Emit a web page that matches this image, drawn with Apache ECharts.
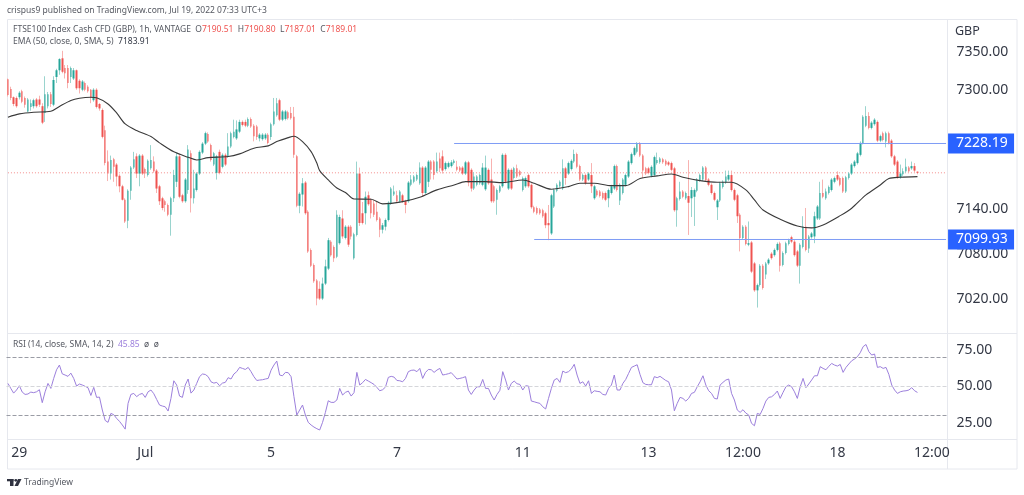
<!DOCTYPE html>
<html>
<head>
<meta charset="utf-8">
<style>html,body{margin:0;padding:0;background:#fff}#c{width:1024px;height:495px}</style>
<script src="https://cdn.jsdelivr.net/npm/echarts@6/dist/echarts.min.js"></script>
</head>
<body>
<div id="c"></div>
<script>
const slotCount = 329;
const tickBars = [4, 48, 92, 136, 180, 224, 257, 290, 323];
const tickLabels = ['29', 'Jul', '5', '7', '11', '13', '12:00', '18', '12:00'];
const priceTicks = [7020, 7080, 7140, 7300, 7350];
const rsiTicks = [25, 50, 75];
const lastClose = 7189.01;
const resistance = 7228.19;
const support = 7099.93;
const resistanceStartBar = 156;
const supportStartBar = 184;

const opens = [
7314,7301,7290,7289,7290,7298,7289,7271,7277,7278,
7287,7287,7278,7269,7278,7294,7280,7317,7326,7342,
7329,7329,7317,7315,7326,7312,7300,7309,7304,7300,
7286,7300,7281,7273,7246,7204,7188,7207,7200,7185,
7171,7153,7125,7165,7196,7211,7188,7212,7194,7186,
7195,7204,7192,7171,7155,7151,7146,7133,7155,7177,
7211,7159,7151,7166,7215,7155,7166,7188,7216,7228,
7241,7226,7200,7189,7217,7197,7213,7211,7224,7237,
7235,7244,7257,7257,7252,7261,7252,7251,7235,7234,
7235,7240,7237,7254,7266,7286,7260,7261,7270,7269,
7264,7211,7145,7160,7176,7137,7086,7066,7045,7034,
7021,7041,7061,7097,7090,7077,7095,7128,7102,7117,
7117,7075,7106,7188,7135,7135,7159,7153,7148,7137,
7128,7113,7117,7126,7148,7160,7159,7151,7159,7151,
7151,7173,7177,7180,7175,7196,7162,7177,7204,7204,
7191,7208,7211,7194,7197,7198,7202,7197,7196,7196,
7188,7203,7193,7168,7173,7175,7173,7167,7193,7180,
7171,7153,7164,7171,7213,7168,7193,7182,7195,7191,
7166,7171,7186,7173,7143,7142,7140,7139,7135,7122,
7108,7144,7165,7171,7168,7195,7188,7194,7204,7214,
7198,7180,7186,7180,7186,7155,7165,7164,7162,7162,
7155,7162,7168,7198,7152,7162,7173,7184,7202,7213,
7217,7228,7212,7195,7195,7185,7186,7202,7203,7207,
7205,7203,7202,7195,7139,7154,7164,7155,7158,7155,
7157,7165,7179,7180,7196,7180,7173,7162,7143,7152,
7170,7176,7180,7186,7166,7159,7133,7102,7117,7093,
7096,7068,7032,7039,7065,7053,7068,7081,7079,7086,
7095,7066,7082,7094,7103,7097,7084,7065,7090,7117,
7088,7103,7104,7128,7128,7162,7155,7162,7166,7177,
7186,7182,7182,7164,7182,7188,7198,7202,7213,7229,
7252,7265,7249,7254,7257,7232,7242,7231,7242,7232,
7211,7204,7183,7187,7191,7196,7195,7198,7190.51];

const closes = [
7293,7289,7281,7278,7296,7284,7280,7287,7282,7286,
7278,7280,7256,7294,7294,7281,7313,7326,7341,7324,
7322,7309,7329,7326,7302,7302,7311,7300,7298,7289,
7300,7277,7275,7237,7202,7188,7206,7197,7184,7171,
7153,7124,7165,7196,7207,7188,7212,7188,7188,7205,
7206,7191,7168,7151,7142,7146,7133,7155,7186,7211,
7157,7151,7180,7220,7155,7168,7188,7217,7228,7242,
7231,7206,7215,7211,7189,7213,7200,7224,7242,7244,
7247,7257,7253,7252,7261,7251,7238,7237,7240,7240,
7240,7229,7254,7271,7282,7260,7271,7271,7262,7262,
7213,7145,7161,7175,7135,7084,7065,7044,7021,7021,
7041,7064,7099,7079,7075,7133,7130,7104,7117,7093,
7104,7107,7188,7122,7122,7157,7147,7135,7133,7126,
7113,7119,7126,7149,7168,7164,7151,7164,7151,7146,
7176,7180,7184,7186,7196,7162,7196,7204,7193,7186,
7204,7195,7192,7202,7202,7203,7205,7193,7192,7188,
7203,7176,7168,7184,7184,7186,7196,7196,7175,7151,
7151,7166,7171,7213,7177,7193,7168,7195,7184,7186,
7182,7182,7171,7143,7137,7135,7135,7131,7119,7119,
7159,7166,7173,7177,7195,7182,7202,7205,7214,7197,
7180,7186,7175,7188,7171,7171,7159,7158,7155,7153,
7166,7171,7198,7166,7173,7180,7186,7204,7214,7222,
7228,7212,7192,7188,7189,7197,7210,7206,7208,7203,
7200,7200,7193,7139,7155,7164,7157,7162,7149,7166,
7166,7180,7186,7196,7179,7173,7162,7153,7152,7175,
7177,7184,7186,7166,7153,7131,7102,7117,7094,7095,
7057,7032,7039,7065,7035,7068,7073,7075,7086,7094,
7065,7082,7095,7099,7097,7079,7065,7093,7117,7086,
7104,7108,7131,7144,7162,7157,7164,7170,7180,7182,
7180,7173,7164,7183,7188,7200,7204,7215,7229,7264,
7265,7249,7256,7260,7232,7238,7233,7242,7229,7211,
7200,7183,7188,7191,7197,7191,7198,7192,7189.01];

const lows = [
7291,7286,7278,7276,7287,7282,7276,7270,7272,7275,
7276,7277,7254,7257,7275,7277,7278,7309,7320,7322,
7315,7302,7309,7313,7300,7295,7298,7298,7296,7282,
7284,7275,7272,7235,7199,7178,7180,7177,7171,7163,
7152,7122,7115,7153,7194,7182,7171,7186,7182,7184,
7193,7189,7162,7146,7139,7137,7131,7105,7150,7170,
7155,7149,7149,7161,7136,7148,7164,7186,7214,7226,
7229,7204,7198,7180,7187,7195,7198,7209,7222,7235,
7233,7242,7251,7250,7250,7249,7231,7233,7231,7232,
7233,7227,7233,7252,7264,7258,7258,7259,7260,7260,
7209,7143,7135,7144,7133,7082,7063,7042,7012,7019,
7019,7039,7059,7077,7070,7075,7093,7101,7100,7090,
7100,7073,7104,7118,7120,7120,7145,7128,7130,7124,
7103,7108,7112,7124,7146,7158,7149,7149,7149,7135,
7149,7171,7175,7178,7173,7157,7160,7170,7180,7180,
7189,7190,7188,7192,7195,7196,7200,7191,7190,7186,
7186,7171,7164,7166,7171,7173,7171,7165,7173,7149,
7149,7133,7162,7169,7175,7166,7166,7180,7182,7184,
7164,7169,7169,7141,7135,7133,7133,7129,7115,7099,
7106,7142,7163,7169,7166,7173,7186,7192,7202,7195,
7178,7178,7173,7178,7162,7153,7157,7156,7153,7151,
7143,7160,7166,7164,7146,7160,7171,7182,7200,7211,
7215,7210,7182,7186,7187,7183,7184,7200,7201,7201,
7198,7198,7191,7137,7117,7152,7155,7153,7106,7130,
7118,7163,7177,7178,7177,7171,7160,7151,7126,7150,
7168,7174,7178,7164,7151,7122,7084,7100,7092,7091,
7055,7030,7009,7037,7033,7047,7066,7073,7077,7084,
7057,7064,7080,7092,7095,7077,7063,7041,7088,7084,
7082,7101,7095,7126,7126,7155,7153,7160,7164,7175,
7178,7171,7162,7162,7180,7186,7196,7200,7211,7227,
7250,7247,7247,7252,7230,7230,7231,7223,7227,7209,
7198,7181,7181,7185,7189,7189,7193,7190,7187.01];

const highs = [
7315,7304,7291,7291,7298,7300,7291,7289,7287,7288,
7289,7292,7282,7318,7297,7297,7318,7328,7342,7352,
7333,7333,7331,7329,7327,7314,7313,7311,7306,7301,
7302,7302,7282,7275,7252,7219,7212,7209,7202,7187,
7173,7155,7167,7198,7217,7215,7214,7214,7196,7207,
7226,7211,7194,7173,7157,7153,7148,7157,7193,7216,
7214,7161,7182,7226,7219,7193,7190,7219,7230,7244,
7243,7228,7217,7213,7220,7215,7215,7242,7244,7260,
7259,7260,7259,7260,7263,7263,7254,7253,7242,7242,
7242,7242,7256,7289,7289,7288,7273,7273,7272,7277,
7277,7213,7163,7182,7178,7139,7088,7068,7047,7044,
7049,7073,7102,7099,7092,7139,7133,7139,7119,7119,
7119,7109,7204,7196,7150,7164,7164,7155,7153,7150,
7130,7122,7128,7151,7170,7172,7165,7166,7161,7153,
7178,7186,7186,7188,7203,7198,7198,7206,7206,7206,
7216,7216,7219,7204,7204,7206,7207,7205,7198,7198,
7205,7205,7195,7190,7186,7188,7202,7212,7195,7208,
7173,7168,7173,7215,7215,7195,7195,7197,7200,7193,
7184,7184,7188,7175,7145,7144,7142,7141,7137,7146,
7161,7168,7175,7179,7207,7197,7204,7207,7220,7216,
7200,7188,7188,7190,7202,7173,7167,7166,7164,7164,
7168,7173,7200,7200,7175,7182,7188,7206,7216,7224,
7230,7230,7214,7197,7197,7199,7212,7216,7210,7209,
7207,7205,7204,7197,7157,7177,7166,7164,7206,7170,
7168,7182,7188,7198,7198,7182,7175,7164,7154,7177,
7179,7192,7192,7192,7168,7161,7135,7119,7119,7124,
7098,7070,7041,7067,7067,7070,7075,7083,7088,7096,
7097,7084,7097,7101,7105,7099,7086,7095,7131,7142,
7106,7110,7137,7146,7177,7180,7168,7172,7182,7184,
7191,7184,7184,7185,7190,7202,7206,7217,7231,7266,
7278,7270,7258,7262,7259,7240,7244,7244,7244,7234,
7213,7206,7200,7195,7208,7198,7204,7202,7190.8];

const emaBars = [0,4,9,15,18,22,25,29,31,35,38,41,45,50,53,58,63,66,70,77,81,86,91,94,98,100,103,106,108,109,112,115,118,121,127,131,138,144,150,156,160,167,173,180,184,190,196,200,205,211,216,221,227,232,236,242,248,253,258,261,264,270,276,281,285,291,295,300,305,308,312,318];
const emaValues = [7263.3,7267.7,7270,7271.3,7277.7,7285.7,7288.7,7290,7289.3,7281,7269,7254.3,7245.4,7237.4,7229,7217,7209.8,7206.2,7209.3,7210.7,7214.3,7221.9,7225,7230.7,7236,7237.9,7230.7,7217.3,7202,7192,7179.5,7168.8,7162.8,7154,7153.7,7147.5,7150.5,7156.4,7166.2,7172.8,7177.3,7177.3,7175.9,7179.5,7175.1,7167.1,7170.6,7175.1,7175.1,7171.9,7171.9,7181.3,7184.9,7187.5,7183.1,7178.6,7176.4,7176.4,7166.2,7152.8,7139.4,7127,7118,7115.4,7119.4,7131.8,7141.7,7159.5,7172.8,7181.5,7183.1,7183.91];

const rsiValues = [
52.0,48.6,45.4,47.5,50.4,46.1,44.5,44.8,46.1,45.7,
46.3,47.7,38.9,46.3,52.0,48.6,55.4,61.3,64.5,58.5,
57.7,56.8,59.0,55.4,50.2,51.6,50.9,50.0,49.1,43.8,
49.3,42.5,42.7,33.9,26.8,25.5,31.6,30.7,28.2,26.2,
23.7,20.9,38.4,44.5,45.2,43.0,44.5,45.2,42.5,46.3,
47.5,45.0,41.1,37.3,36.6,36.1,33.2,41.8,53.8,50.9,
43.4,42.5,50.9,55.0,45.4,47.5,52.0,56.6,58.4,58.1,
56.6,53.1,52.2,52.7,50.4,52.2,52.7,55.9,55.0,58.4,
60.0,62.9,62.2,61.5,62.9,60.0,56.6,54.0,54.3,54.5,
55.0,55.4,61.0,64.5,67.2,57.7,57.2,59.5,59.3,56.6,
43.0,30.5,33.9,37.3,30.5,25.5,23.7,22.3,21.2,20.3,
25.5,32.3,40.2,39.1,39.1,40.7,48.6,44.1,45.9,46.8,
43.4,45.7,59.5,50.9,52.5,54.7,53.6,52.5,51.3,49.3,
47.0,47.7,49.5,56.1,56.8,56.3,54.0,53.8,53.1,55.4,
60.0,60.9,61.1,60.0,62.2,55.4,59.5,61.5,61.3,59.5,
61.1,62.2,57.7,58.1,58.6,59.3,57.2,55.0,55.4,55.9,
56.6,47.5,44.5,47.5,49.7,49.7,54.7,48.6,48.6,44.1,
40.7,44.5,47.3,60.0,54.3,47.5,52.0,53.6,51.8,51.3,
47.5,50.4,50.2,40.0,39.5,38.9,38.4,36.1,34.6,41.8,
48.6,54.3,55.4,52.7,60.4,59.3,60.0,61.8,65.0,57.7,
52.0,53.1,50.2,53.8,45.2,47.0,46.6,46.3,44.5,44.1,
48.6,50.9,57.7,47.5,47.5,52.0,54.7,58.8,62.9,63.8,
64.7,58.1,52.5,51.3,51.1,51.1,56.6,55.9,56.8,55.4,
54.0,53.1,47.5,33.4,38.4,42.5,41.8,40.0,41.8,45.2,
45.9,49.7,53.1,57.2,50.9,47.0,45.2,41.8,41.4,50.9,
52.7,54.3,55.0,45.2,40.7,33.9,32.3,34.1,31.8,30.5,
24.8,23.2,31.6,30.9,35.0,40.0,42.5,42.9,44.5,46.8,
41.8,45.9,49.7,50.9,49.7,46.3,41.8,49.7,55.4,49.1,
51.6,54.3,57.2,57.2,63.4,62.2,61.3,63.6,65.6,64.5,
63.8,64.9,59.5,62.9,65.2,67.4,68.6,70.2,72.9,77.0,
78.5,73.6,71.3,72.0,62.9,63.4,62.2,62.9,58.1,50.9,
47.5,45.2,46.3,46.8,47.0,47.5,49.1,47.0,45.85];

const FONT = '"Noto Sans", sans-serif';
const SMALL = '8.5px ' + FONT;
const UP = '#26a69a', DOWN = '#ef5350';
const UP_WICK = '#9ad4ce', DOWN_WICK = '#f8b2b0';
const FRAME = '#e6e8ee';
const categories = Array.from({length: slotCount}, (_, i) => {
  const k = tickBars.indexOf(i);
  return k >= 0 ? tickLabels[k] : '';
});

const wickData = opens.map((o, i) => [o, closes[i], lows[i], highs[i]]);
const bodyData = opens.map((o, i) => [o, closes[i], Math.min(o, closes[i]), Math.max(o, closes[i])]);
const LEFT = 6.5, RIGHT = 1024 - 947.5;

function levelSeries(name, value, startBar) {
  return {
    name, type: 'line', xAxisIndex: 0, yAxisIndex: 0, showSymbol: false, silent: true, z: 4,
    data: [[startBar, value], [slotCount - 1, value]],
    lineStyle: {color: '#7f9cf5', width: 1},
    endLabel: {show: true, distance: 2, formatter: value.toFixed(2),
      backgroundColor: '#2962ff', color: '#fff', fontFamily: FONT, fontSize: 14,
      width: 50, align: 'left', padding: [3, 8, 3, 8]}
  };
}

const chart = echarts.init(document.getElementById('c'), null, {renderer: 'canvas'});
chart.setOption({
  animation: false,
  backgroundColor: '#fff',
  grid: [
    {left: LEFT, right: RIGHT, top: 19, height: 314},
    {left: LEFT, right: RIGHT, top: 333, height: 107}
  ],
  xAxis: [
    {type: 'category', gridIndex: 0, data: categories, boundaryGap: true,
     axisLine: {show: false}, axisTick: {show: false}, axisLabel: {show: false}, splitLine: {show: false}},
    {type: 'category', gridIndex: 1, data: categories, boundaryGap: true,
     axisLine: {show: false}, axisTick: {show: false}, splitLine: {show: false},
     axisLabel: {show: true, interval: 0, color: '#333845', fontFamily: FONT, fontSize: 14, margin: 6, hideOverlap: false}}
  ],
  yAxis: [
    {type: 'value', gridIndex: 0, position: 'right', min: 6975, max: 7394.5, scale: true,
     axisLine: {show: false}, axisTick: {show: false}, splitLine: {show: false},
     axisLabel: {customValues: priceTicks, formatter: v => v.toFixed(2), color: '#333845',
       fontFamily: FONT, fontSize: 14, margin: 9}},
    {type: 'value', gridIndex: 1, position: 'right', min: 13.5, max: 86.3,
     axisLine: {show: false}, axisTick: {show: false}, splitLine: {show: false},
     axisLabel: {customValues: rsiTicks, formatter: v => v.toFixed(2), color: '#333845',
       fontFamily: FONT, fontSize: 14, margin: 9}}
  ],
  series: [
    {name: 'Last', type: 'line', xAxisIndex: 0, yAxisIndex: 0, showSymbol: false, silent: true, z: 1,
     data: [[0, lastClose], [slotCount - 1, lastClose]],
     lineStyle: {color: '#f48f8d', type: [1, 2], width: 1}},
    {name: 'Wicks', type: 'candlestick', xAxisIndex: 0, yAxisIndex: 0, data: wickData, barWidth: 1, z: 2,
     itemStyle: {color: UP_WICK, color0: DOWN_WICK, borderColor: UP_WICK, borderColor0: DOWN_WICK, borderWidth: 1}},
    {name: 'FTSE100', type: 'candlestick', xAxisIndex: 0, yAxisIndex: 0, data: bodyData, barWidth: 2, z: 3,
     itemStyle: {color: UP, color0: DOWN, borderColor: UP, borderColor0: DOWN, borderWidth: 0}},
    levelSeries('Resistance', resistance, resistanceStartBar),
    levelSeries('Support', support, supportStartBar),
    {name: 'EMA', type: 'line', xAxisIndex: 0, yAxisIndex: 0, showSymbol: false, smooth: 0.3, z: 5,
     data: emaBars.map((b, i) => [b, emaValues[i]]),
     lineStyle: {color: '#3a3a3a', width: 1.1}},
    {name: 'RSI', type: 'line', xAxisIndex: 1, yAxisIndex: 1, showSymbol: false, data: rsiValues,
     lineStyle: {color: '#9c7fdc', width: 1},
     markLine: {silent: true, symbol: 'none', animation: false, label: {show: false},
       data: [
         {yAxis: 70, lineStyle: {color: '#9a9ca5', type: 'dashed', width: 1}},
         {yAxis: 50, lineStyle: {color: '#d5d6da', type: 'dashed', width: 1}},
         {yAxis: 30, lineStyle: {color: '#9a9ca5', type: 'dashed', width: 1}}
       ]}}
  ],
  graphic: [
    {type: 'rect', z: -1, silent: true, shape: {x: 7.5, y: 19.5, width: 1009.5, height: 449.5},
     style: {fill: 'none', stroke: FRAME, lineWidth: 1}},
    {type: 'line', silent: true, shape: {x1: 947.5, y1: 19.5, x2: 947.5, y2: 469}, style: {stroke: FRAME, lineWidth: 1}},
    {type: 'line', silent: true, shape: {x1: 7.5, y1: 333.5, x2: 1017, y2: 333.5}, style: {stroke: FRAME, lineWidth: 1}},
    {type: 'line', silent: true, shape: {x1: 7.5, y1: 439.5, x2: 1017, y2: 439.5}, style: {stroke: FRAME, lineWidth: 1}},
    {type: 'text', silent: true, x: 7, y: 11, style: {text: 'crispus9 published on TradingView.com, Jul 19, 2022 07:33 UTC+3',
      fill: '#555861', font: SMALL, verticalAlign: 'middle'}},
    {type: 'text', silent: true, x: 13, y: 30, style: {
      text: 'FTSE100 Index Cash CFD (GBP), 1h, VANTAGE  {l|O}{v|7190.51}  {l|H}{v|7190.80}  {l|L}{v|7187.01}  {l|C}{v|7189.01}',
      fill: '#555861', font: SMALL, verticalAlign: 'middle',
      rich: {l: {fill: '#555861', font: SMALL}, v: {fill: '#ef5350', font: SMALL}}}},
    {type: 'text', silent: true, x: 13, y: 42, style: {
      text: 'EMA (50, close, 0, SMA, 5)  {v|7183.91}', fill: '#555861', font: SMALL, verticalAlign: 'middle',
      rich: {v: {fill: '#333845', font: SMALL}}}},
    {type: 'text', silent: true, x: 13, y: 345, style: {
      text: 'RSI (14, close, SMA, 14, 2)  {v|45.85}  {n|ø}  {n|ø}', fill: '#555861', font: SMALL, verticalAlign: 'middle',
      rich: {v: {fill: '#9c7fdc', font: SMALL}, n: {fill: '#555861', font: SMALL}}}},
    {type: 'text', silent: true, x: 955, y: 31, style: {text: 'GBP', fill: '#333845', font: '12.5px ' + FONT, verticalAlign: 'middle'}},
    {type: 'rect', silent: true, shape: {x: 7, y: 479, width: 6.5, height: 2.3}, style: {fill: '#2f3240'}},
    {type: 'rect', silent: true, shape: {x: 10, y: 479, width: 3.5, height: 7}, style: {fill: '#2f3240'}},
    {type: 'circle', silent: true, shape: {cx: 15.8, cy: 480.3, r: 1.4}, style: {fill: '#2f3240'}},
    {type: 'polygon', silent: true, shape: {points: [[18, 479], [21.5, 479], [18, 486], [14.5, 486]]}, style: {fill: '#2f3240'}},
    {type: 'text', silent: true, x: 24, y: 483, style: {text: 'TradingView', fill: '#555861', font: SMALL, verticalAlign: 'middle'}}
  ]
});
</script>
</body>
</html>
